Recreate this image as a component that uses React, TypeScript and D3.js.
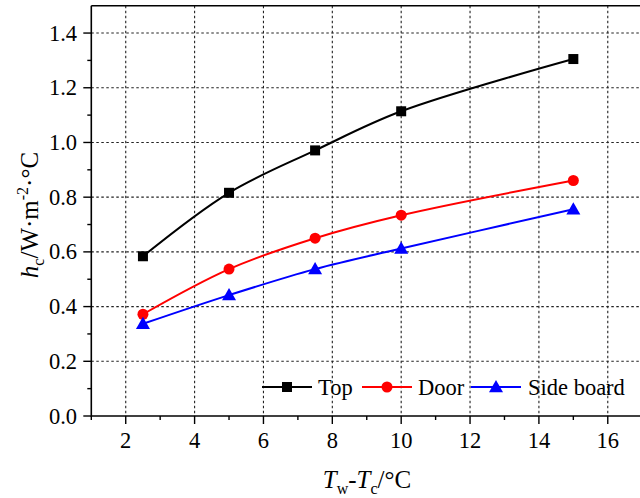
import React from "react";
import * as d3 from "d3";

const xValues = [2.5, 5, 7.5, 10, 15];
const topValues = [0.584, 0.816, 0.971, 1.114, 1.305];
const doorValues = [0.372, 0.537, 0.65, 0.734, 0.861];
const sideValues = [0.337, 0.442, 0.537, 0.612, 0.756];
const xTicks = [2, 4, 6, 8, 10, 12, 14, 16];
const yTicks = [0, 0.2, 0.4, 0.6, 0.8, 1.0, 1.2, 1.4];
const seriesNames = ["Top", "Door", "Side board"];

const W = 640;
const H = 498;
const FONT = "Liberation Serif";

export default function App() {
  const x = d3.scaleLinear().domain([1, 17]).range([91.3, 642.2]);
  const y = d3.scaleLinear().domain([0, 1.5]).range([416, 5.7]);

  const series = [
    { name: seriesNames[0], values: topValues, color: "#000000", marker: "square" },
    { name: seriesNames[1], values: doorValues, color: "#ff0000", marker: "circle" },
    { name: seriesNames[2], values: sideValues, color: "#0000ff", marker: "triangle" },
  ];

  const line = d3
    .line<[number, number]>()
    .x((d) => x(d[0]))
    .y((d) => y(d[1]))
    .curve(d3.curveCatmullRom.alpha(0.5));

  const marker = (type: string, cx: number, cy: number, color: string, key: any) => {
    if (type === "square")
      return <rect key={key} x={cx - 5} y={cy - 5} width={10} height={10} fill={color} />;
    if (type === "circle") return <circle key={key} cx={cx} cy={cy} r={5.5} fill={color} />;
    const s = 7;
    return (
      <path
        key={key}
        d={`M${cx},${cy - s} L${cx + s},${cy + s * 0.75} L${cx - s},${cy + s * 0.75} Z`}
        fill={color}
      />
    );
  };

  const [x0, x1] = x.range();
  const [y0, y1] = y.range();
  const xMinor = d3.range(1, 17.01, 1).filter((v) => v % 2 !== 0);
  const yMinor = d3.range(0.1, 1.5, 0.2);

  const legendItems = [
    { lx: 262, tx: 318 },
    { lx: 362, tx: 418 },
    { lx: 471, tx: 528 },
  ];
  const legendY = 387;

  return (
    <svg
      width={W}
      height={H}
      style={{ position: "absolute", left: 0, top: 0, background: "#fff" }}
    >
      <rect x={0} y={0} width={W} height={H} fill="#fff" />
      <g stroke="#222" strokeWidth={1.1} strokeDasharray="2.5,2.5">
        {xTicks.map((t) => (
          <line key={"gx" + t} x1={x(t)} x2={x(t)} y1={y1} y2={y0} />
        ))}
        {yTicks
          .filter((t) => t > 0)
          .map((t) => (
            <line key={"gy" + t} x1={x0} x2={x1} y1={y(t)} y2={y(t)} />
          ))}
      </g>
      {series.map((s) => (
        <g key={s.name}>
          <path
            d={line(xValues.map((v, i) => [v, s.values[i]] as [number, number])) || ""}
            fill="none"
            stroke={s.color}
            strokeWidth={2}
          />
          {xValues.map((v, i) => marker(s.marker, x(v), y(s.values[i]), s.color, i))}
        </g>
      ))}
      <g stroke="#000" strokeWidth={1.6} fill="none">
        <line x1={x0} x2={x0} y1={y1} y2={y0 + 0.8} />
        <line x1={x0} x2={x1} y1={y0} y2={y0} />
        <line x1={x0} x2={x1} y1={y1} y2={y1} />
        <line x1={x1} x2={x1} y1={y1} y2={y0} />
      </g>
      <g stroke="#000" strokeWidth={1.4}>
        {xTicks.map((t) => (
          <line key={"tx" + t} x1={x(t)} x2={x(t)} y1={y0} y2={y0 + 8} />
        ))}
        {xMinor.map((t) => (
          <line key={"mx" + t} x1={x(t)} x2={x(t)} y1={y0} y2={y0 + 4} />
        ))}
        {yTicks.map((t) => (
          <line key={"ty" + t} x1={x0 - 8} x2={x0} y1={y(t)} y2={y(t)} />
        ))}
        {yMinor.map((t) => (
          <line key={"my" + t} x1={x0 - 4} x2={x0} y1={y(t)} y2={y(t)} />
        ))}
      </g>
      {xTicks.map((t) => (
        <text key={"lx" + t} x={x(t)} y={448} textAnchor="middle" fontSize={22.5} fill="#000" fontFamily={FONT}>
          {t}
        </text>
      ))}
      {yTicks.map((t) => (
        <text key={"ly" + t} x={77} y={y(t) + 7.5} textAnchor="end" fontSize={22.5} fill="#000" fontFamily={FONT}>
          {t.toFixed(1)}
        </text>
      ))}
      <text x={367} y={488} fontSize={25} textAnchor="middle" fill="#000" fontFamily={FONT}>
        <tspan fontStyle="italic">T</tspan>
        <tspan fontSize={16} dy={6}>w</tspan>
        <tspan dy={-6}>-</tspan>
        <tspan fontStyle="italic">T</tspan>
        <tspan fontSize={16} dy={6}>c</tspan>
        <tspan dy={-6}>/°C</tspan>
      </text>
      <text
        transform={`translate(38,215) rotate(-90)`}
        fontSize={25}
        textAnchor="middle"
        fill="#000"
        fontFamily={FONT}
      >
        <tspan fontStyle="italic">h</tspan>
        <tspan fontSize={16} dy={6}>c</tspan>
        <tspan dy={-6}>/W·m</tspan>
        <tspan fontSize={16} dy={-10}>-2</tspan>
        <tspan dy={10}>·°C</tspan>
      </text>
      {series.map((s, i) => {
        const it = legendItems[i];
        return (
          <g key={"leg" + s.name}>
            <line x1={it.lx} x2={it.lx + 50} y1={legendY} y2={legendY} stroke={s.color} strokeWidth={2} />
            {marker(s.marker, it.lx + 25, legendY, s.color, "m")}
            <text x={it.tx} y={legendY + 8} fontSize={22.5} fill="#000" fontFamily={FONT}>
              {s.name}
            </text>
          </g>
        );
      })}
    </svg>
  );
}
